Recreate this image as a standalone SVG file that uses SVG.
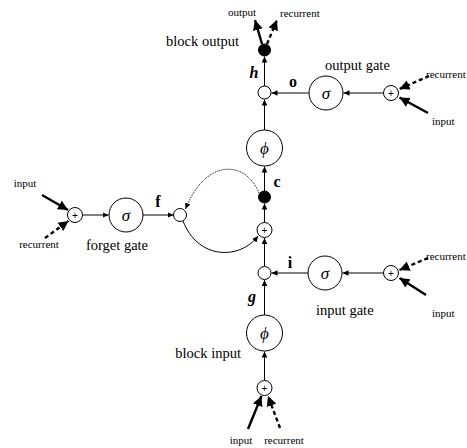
<svg xmlns="http://www.w3.org/2000/svg" width="467" height="448" viewBox="0 0 467 448">
  <style>
    .lbl { font-family: "Liberation Serif", "Times New Roman", serif; fill: #000; }
    .small { font-size: 11px; }
    .name { font-size: 14.5px; }
    .math { font-size: 16px; font-weight: bold; }
    .it { font-style: italic; }
    .node { fill: #fff; stroke: #000; stroke-width: 1; }
    .dot { fill: #000; stroke: #000; stroke-width: 1; }
    .sym { font-family: "Liberation Serif", "Times New Roman", serif; font-style: italic; font-size: 17px; }
    .plus { font-family: "Liberation Sans", Arial, sans-serif; font-size: 10px; }
    .wire { fill: none; stroke: #000; stroke-width: 1; }
    .thick { fill: none; stroke: #000; stroke-width: 2.4; }
    .dash { fill: none; stroke: #000; stroke-width: 2.4; stroke-dasharray: 4 3; }
    .dotted { fill: none; stroke: #000; stroke-width: 1; stroke-dasharray: 1 1; }
  </style>
  <defs>
    <marker id="tip" markerUnits="userSpaceOnUse" markerWidth="8" markerHeight="8" refX="6" refY="4" orient="auto">
      <path d="M0,1.2 L6,4 L0,6.8 Z" fill="#000"/>
    </marker>
    <marker id="bigtip" markerUnits="userSpaceOnUse" markerWidth="14" markerHeight="14" refX="10" refY="7" orient="auto">
      <path d="M0,2 L10,7 L0,12 Z" fill="#000"/>
    </marker>
  </defs>

  <!-- connectors -->
  <g id="connectors">
    <!-- block output fan-out -->
    <line class="thick" x1="262" y1="44" x2="255" y2="20" marker-end="url(#bigtip)"/>
    <line class="dash" x1="267" y1="44" x2="277" y2="20" marker-end="url(#bigtip)"/>
    <!-- main vertical path -->
    <line class="wire" x1="264.5" y1="86" x2="264.5" y2="56.5" marker-end="url(#tip)"/>
    <line class="wire" x1="264.5" y1="130" x2="264.5" y2="99.5" marker-end="url(#tip)"/>
    <line class="wire" x1="264.5" y1="191" x2="264.5" y2="166.5" marker-end="url(#tip)"/>
    <line class="wire" x1="264.5" y1="222.5" x2="264.5" y2="203.5" marker-end="url(#tip)"/>
    <line class="wire" x1="264.5" y1="266.5" x2="264.5" y2="238" marker-end="url(#tip)"/>
    <line class="wire" x1="264.5" y1="315" x2="264.5" y2="280" marker-end="url(#tip)"/>
    <line class="wire" x1="264.5" y1="380.5" x2="264.5" y2="351.5" marker-end="url(#tip)"/>
    <!-- output gate -->
    <line class="wire" x1="383.5" y1="93" x2="343.5" y2="93" marker-end="url(#tip)"/>
    <line class="wire" x1="309" y1="93" x2="271.5" y2="93" marker-end="url(#tip)"/>
    <line class="dash" x1="429" y1="76" x2="399.5" y2="89" marker-end="url(#bigtip)"/>
    <line class="thick" x1="428" y1="113" x2="399.5" y2="97.5" marker-end="url(#bigtip)"/>
    <!-- input gate -->
    <line class="wire" x1="383.5" y1="273" x2="342.5" y2="273" marker-end="url(#tip)"/>
    <line class="wire" x1="308" y1="273" x2="271.5" y2="273" marker-end="url(#tip)"/>
    <line class="dash" x1="428" y1="258" x2="399.5" y2="270" marker-end="url(#bigtip)"/>
    <line class="thick" x1="426" y1="295" x2="399.5" y2="278" marker-end="url(#bigtip)"/>
    <!-- block input -->
    <line class="thick" x1="248" y1="429" x2="261.5" y2="396" marker-end="url(#bigtip)"/>
    <line class="dash" x1="280" y1="428" x2="268" y2="396" marker-end="url(#bigtip)"/>
    <!-- forget gate -->
    <line class="thick" x1="42" y1="195" x2="68" y2="210" marker-end="url(#bigtip)"/>
    <line class="dash" x1="45" y1="238" x2="68.5" y2="221" marker-end="url(#bigtip)"/>
    <line class="wire" x1="82.5" y1="215" x2="108.5" y2="215" marker-end="url(#tip)"/>
    <line class="wire" x1="143" y1="215" x2="173.5" y2="215" marker-end="url(#tip)"/>
    <!-- cell state recurrence -->
    <path class="dotted" d="M259,193 C245,159 205,159 185.5,209" marker-end="url(#tip)"/>
    <path class="wire" d="M183,221 C198,260 240,260 258,236" marker-end="url(#tip)"/>
  </g>

  <!-- block output -->
  <g id="block-output">
    <circle class="dot" cx="264.5" cy="50" r="6"/>
    <text class="lbl name" x="239" y="46" text-anchor="end">block output</text>
    <text class="lbl small" x="242" y="16" text-anchor="middle">output</text>
    <text class="lbl small" x="280" y="17">recurrent</text>
  </g>

  <!-- output multiplication -->
  <g id="h-mult">
    <circle class="node" cx="264.5" cy="92.5" r="6.5"/>
    <text class="lbl math it" x="254" y="78" text-anchor="middle">h</text>
  </g>

  <!-- output gate -->
  <g id="output-gate">
    <circle class="node" cx="326" cy="93" r="17"/>
    <text class="sym" x="326" y="98.5" text-anchor="middle">σ</text>
    <text class="lbl name" x="325" y="70">output gate</text>
    <text class="lbl math" x="293" y="87" text-anchor="middle">o</text>
  </g>
  <g id="output-gate-sum">
    <circle class="node" cx="391" cy="93" r="7.5"/>
    <text class="plus" x="391" y="96.5" text-anchor="middle">+</text>
    <text class="lbl small" x="426" y="78">recurrent</text>
    <text class="lbl small" x="432" y="125">input</text>
  </g>

  <!-- output squashing -->
  <g id="output-phi">
    <circle class="node" cx="264.5" cy="148" r="18"/>
    <text class="sym" x="264.5" y="154" text-anchor="middle">ϕ</text>
  </g>

  <!-- cell -->
  <g id="cell">
    <circle class="dot" cx="264.5" cy="197" r="6"/>
    <text class="lbl math" x="277" y="187" text-anchor="middle">c</text>
  </g>
  <g id="cell-sum">
    <circle class="node" cx="264.5" cy="230" r="7.5"/>
    <text class="plus" x="264.5" y="233.5" text-anchor="middle">+</text>
  </g>

  <!-- input multiplication -->
  <g id="i-mult">
    <circle class="node" cx="264.5" cy="273" r="6.5"/>
    <text class="lbl math" x="290" y="268" text-anchor="middle">i</text>
    <text class="lbl math it" x="252" y="302" text-anchor="middle">g</text>
  </g>

  <!-- input gate -->
  <g id="input-gate">
    <circle class="node" cx="325" cy="273" r="17"/>
    <text class="sym" x="325" y="278.5" text-anchor="middle">σ</text>
    <text class="lbl name" x="316" y="315">input gate</text>
  </g>
  <g id="input-gate-sum">
    <circle class="node" cx="391" cy="273" r="7.5"/>
    <text class="plus" x="391" y="276.5" text-anchor="middle">+</text>
    <text class="lbl small" x="426" y="260">recurrent</text>
    <text class="lbl small" x="432" y="317">input</text>
  </g>

  <!-- block input -->
  <g id="block-input">
    <circle class="node" cx="264.5" cy="333" r="18"/>
    <text class="sym" x="264.5" y="339" text-anchor="middle">ϕ</text>
    <text class="lbl name" x="241" y="358" text-anchor="end">block input</text>
  </g>
  <g id="block-input-sum">
    <circle class="node" cx="264.5" cy="388" r="7.5"/>
    <text class="plus" x="264.5" y="391.5" text-anchor="middle">+</text>
    <text class="lbl small" x="241" y="444" text-anchor="middle">input</text>
    <text class="lbl small" x="284" y="444" text-anchor="middle">recurrent</text>
  </g>

  <!-- forget gate -->
  <g id="forget-gate-sum">
    <circle class="node" cx="75" cy="215" r="7.5"/>
    <text class="plus" x="75" y="218.5" text-anchor="middle">+</text>
    <text class="lbl small" x="25" y="187" text-anchor="middle">input</text>
    <text class="lbl small" x="39" y="248" text-anchor="middle">recurrent</text>
  </g>
  <g id="forget-gate">
    <circle class="node" cx="126" cy="215" r="17"/>
    <text class="sym" x="126" y="220.5" text-anchor="middle">σ</text>
    <text class="lbl name" x="117" y="250" text-anchor="middle">forget gate</text>
    <text class="lbl math" x="158" y="207" text-anchor="middle">f</text>
  </g>
  <g id="f-mult">
    <circle class="node" cx="180" cy="215" r="6.5"/>
  </g>
</svg>
